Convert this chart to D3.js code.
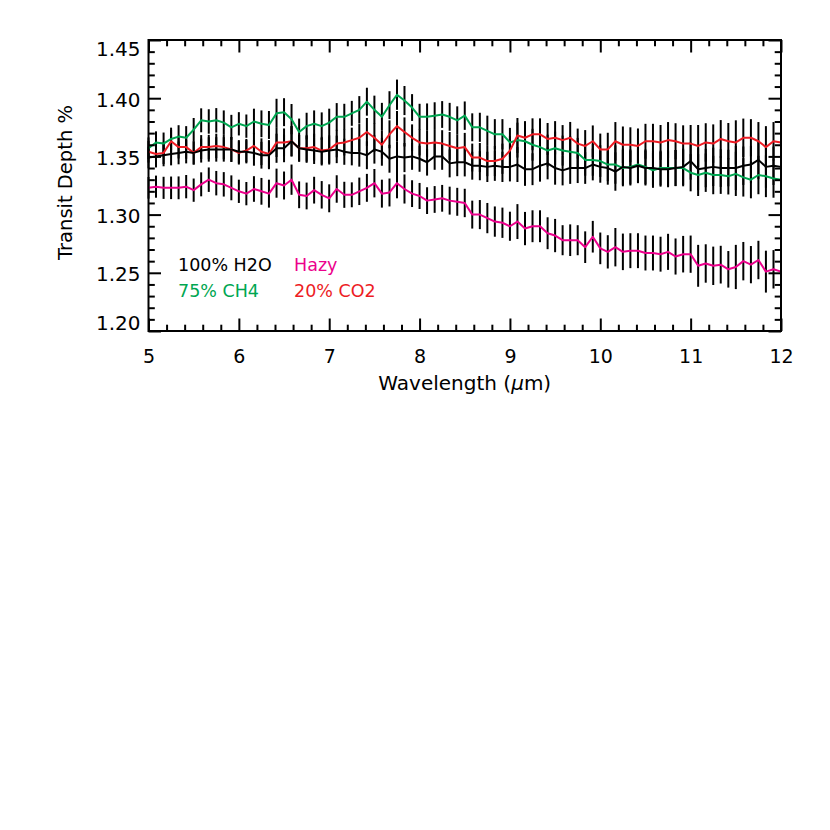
<!DOCTYPE html>
<html><head><meta charset="utf-8">
<script src="https://cdn.jsdelivr.net/npm/d3@7"></script>
<style>
body{margin:0;background:#fff;}
svg{display:block;}
text{font-family:"DejaVu Sans",sans-serif;}
</style>
</head><body>
<svg id="chart" width="830" height="830"></svg>
<script>
// ---------- data ----------
const wavelength = [
5.000,5.083,5.167,5.250,5.333,5.417,5.500,5.583,5.667,5.750,5.833,5.917,
6.000,6.083,6.167,6.250,6.333,6.417,6.500,6.583,6.667,6.750,6.833,6.917,
7.000,7.083,7.167,7.250,7.333,7.417,7.500,7.583,7.667,7.750,7.833,7.917,
8.000,8.083,8.167,8.250,8.333,8.417,8.500,8.583,8.667,8.750,8.833,8.917,
9.000,9.083,9.167,9.250,9.333,9.417,9.500,9.583,9.667,9.750,9.833,9.917,
10.000,10.083,10.167,10.250,10.333,10.417,10.500,10.583,10.667,10.750,10.833,10.917,
11.000,11.083,11.167,11.250,11.333,11.417,11.500,11.583,11.667,11.750,11.833,11.917,
12.000];

const h2o = [
1.349,1.350,1.351,1.352,1.353,1.354,1.353,1.355,1.356,1.356,1.356,1.356,
1.354,1.354,1.353,1.351,1.351,1.357,1.357,1.363,1.357,1.356,1.355,1.354,
1.355,1.356,1.354,1.353,1.353,1.351,1.356,1.354,1.348,1.350,1.349,1.350,
1.348,1.345,1.350,1.350,1.344,1.345,1.345,1.342,1.342,1.341,1.342,1.341,
1.341,1.343,1.339,1.339,1.342,1.344,1.340,1.338,1.340,1.340,1.340,1.343,
1.341,1.340,1.337,1.341,1.340,1.342,1.340,1.340,1.339,1.339,1.340,1.341,
1.346,1.339,1.340,1.341,1.340,1.340,1.340,1.342,1.343,1.347,1.341,1.342,
1.341];

const ch4 = [
1.357,1.362,1.361,1.365,1.367,1.366,1.373,1.381,1.380,1.381,1.379,1.375,
1.378,1.376,1.380,1.378,1.377,1.387,1.388,1.382,1.371,1.376,1.378,1.376,
1.379,1.384,1.384,1.387,1.390,1.397,1.390,1.384,1.394,1.403,1.398,1.392,
1.384,1.384,1.385,1.386,1.384,1.381,1.385,1.375,1.375,1.372,1.369,1.369,
1.362,1.364,1.363,1.360,1.358,1.355,1.357,1.355,1.354,1.353,1.347,1.347,
1.346,1.343,1.343,1.340,1.341,1.343,1.341,1.338,1.340,1.340,1.340,1.340,
1.336,1.334,1.336,1.334,1.334,1.333,1.335,1.332,1.330,1.334,1.333,1.331,
1.330];

const co2 = [
1.354,1.352,1.353,1.363,1.358,1.358,1.353,1.358,1.358,1.359,1.358,1.356,
1.353,1.355,1.359,1.354,1.352,1.362,1.362,1.363,1.357,1.357,1.358,1.355,
1.356,1.361,1.362,1.364,1.366,1.371,1.366,1.360,1.369,1.376,1.371,1.366,
1.362,1.361,1.362,1.361,1.359,1.357,1.358,1.349,1.349,1.346,1.346,1.348,
1.355,1.368,1.366,1.369,1.369,1.365,1.366,1.364,1.366,1.361,1.359,1.363,
1.356,1.356,1.363,1.360,1.360,1.359,1.363,1.363,1.362,1.364,1.363,1.361,
1.361,1.359,1.362,1.361,1.365,1.363,1.362,1.366,1.366,1.363,1.358,1.363,
1.362];

const hazy = [
1.323,1.324,1.323,1.323,1.323,1.324,1.321,1.326,1.330,1.327,1.326,1.323,
1.320,1.318,1.322,1.320,1.318,1.327,1.325,1.330,1.317,1.316,1.321,1.317,
1.314,1.322,1.317,1.317,1.320,1.323,1.327,1.318,1.319,1.327,1.322,1.318,
1.316,1.312,1.313,1.314,1.312,1.311,1.310,1.300,1.300,1.297,1.294,1.293,
1.290,1.294,1.288,1.290,1.290,1.284,1.282,1.278,1.278,1.278,1.272,1.281,
1.271,1.268,1.272,1.268,1.269,1.269,1.267,1.267,1.266,1.268,1.264,1.266,
1.266,1.256,1.258,1.256,1.257,1.253,1.255,1.260,1.257,1.261,1.251,1.253,
1.251];

// one-sigma error per wavelength bin (same for every case)
const sigma = [
0.0093,0.0095,0.0095,0.0097,0.0098,0.0100,0.0100,0.0103,0.0105,0.0105,0.0105,0.0107,
0.0100,0.0100,0.0110,0.0115,0.0120,0.0125,0.0120,0.0130,0.0115,0.0115,0.0115,0.0118,
0.0120,0.0118,0.0112,0.0107,0.0118,0.0120,0.0122,0.0120,0.0120,0.0130,0.0125,0.0115,
0.0112,0.0115,0.0115,0.0115,0.0120,0.0120,0.0122,0.0120,0.0125,0.0130,0.0130,0.0130,
0.0125,0.0150,0.0143,0.0137,0.0137,0.0137,0.0143,0.0129,0.0136,0.0129,0.0136,0.0136,
0.0136,0.0143,0.0165,0.0157,0.0150,0.0150,0.0150,0.0150,0.0150,0.0155,0.0155,0.0157,
0.0160,0.0180,0.0165,0.0165,0.0162,0.0157,0.0190,0.0165,0.0160,0.0165,0.0180,0.0165,
0.0165];

const seriesNames  = ["75% CH4", "20% CO2", "Hazy", "100% H2O"];
const seriesValues = [ch4, co2, hazy, h2o];
const seriesColors = ["#00a651", "#ed1c24", "#ec008c", "#000000"];

const legendLabels = ["100% H2O", "Hazy", "75% CH4", "20% CO2"];
const legendColors = ["#000000", "#ec008c", "#00a651", "#ed1c24"];

const xTicks = [5, 6, 7, 8, 9, 10, 11, 12];
const xMinorTicks = [5.2,5.4,5.6,5.8,6.2,6.4,6.6,6.8,7.2,7.4,7.6,7.8,8.2,8.4,8.6,8.8,
                     9.2,9.4,9.6,9.8,10.2,10.4,10.6,10.8,11.2,11.4,11.6,11.8];
const yTicks = [1.20, 1.25, 1.30, 1.35, 1.40, 1.45];
const yMinorTicks = [1.21,1.22,1.23,1.24,1.26,1.27,1.28,1.29,1.31,1.32,1.33,1.34,
                     1.36,1.37,1.38,1.39,1.41,1.42,1.43,1.44];

// ---------- layout ----------
const L = 148.5, R = 781, T = 40, B = 331;
const MAJ = 12.5, MIN = 6.3;

const svg = d3.select("#chart");
const x = d3.scaleLinear().domain([5, 12]).range([L, R]);
const y = d3.scaleLinear().domain([1.20, 1.45]).range([B, T]);

// error bars
const eb = svg.append("g").attr("stroke", "#000").attr("stroke-width", 2);
seriesValues.forEach(vals => {
  eb.selectAll(null).data(vals).enter().append("line")
    .attr("x1", (d, i) => x(wavelength[i]))
    .attr("x2", (d, i) => x(wavelength[i]))
    .attr("y1", (d, i) => y(d - sigma[i]))
    .attr("y2", (d, i) => y(d + sigma[i]));
});

// lines
const line = d3.line().x((d, i) => x(wavelength[i])).y(d => y(d));
seriesValues.forEach((vals, k) => {
  svg.append("path").datum(vals)
    .attr("d", line)
    .attr("fill", "none")
    .attr("stroke", seriesColors[k])
    .attr("stroke-width", 2)
    .attr("stroke-linejoin", "round");
});

// axes
function styleAxis(g) {
  g.select(".domain").remove();
  g.selectAll(".tick line").attr("stroke", "#000").attr("stroke-width", 2);
}
const fmtY = d3.format(".2f");

svg.append("g").attr("transform", `translate(0,${B})`)
  .call(d3.axisBottom(x).tickValues(xTicks).tickSize(-MAJ).tickPadding(18.5).tickFormat(d3.format("d")))
  .call(styleAxis)
  .call(g => g.selectAll("text").attr("font-size", 19).attr("fill", "#000"));
svg.append("g").attr("transform", `translate(0,${B})`)
  .call(d3.axisBottom(x).tickValues(xMinorTicks).tickSize(-MIN).tickFormat(""))
  .call(styleAxis);
svg.append("g").attr("transform", `translate(0,${T})`)
  .call(d3.axisTop(x).tickValues(xTicks).tickSize(-MAJ).tickFormat(""))
  .call(styleAxis);
svg.append("g").attr("transform", `translate(0,${T})`)
  .call(d3.axisTop(x).tickValues(xMinorTicks).tickSize(-MIN).tickFormat(""))
  .call(styleAxis);

// label nudges so the end labels sit inside the frame, as in the reference
const yLabelShift = v => (v >= 1.449 ? 9 : v <= 1.201 ? -8 : 1.5);
svg.append("g").attr("transform", `translate(${L},0)`)
  .call(d3.axisLeft(y).tickValues(yTicks).tickSize(-MAJ).tickPadding(8).tickFormat(fmtY))
  .call(styleAxis)
  .call(g => g.selectAll("text").attr("font-size", 20).attr("fill", "#000")
    .attr("y", d => yLabelShift(d)));
svg.append("g").attr("transform", `translate(${L},0)`)
  .call(d3.axisLeft(y).tickValues(yMinorTicks).tickSize(-MIN).tickFormat(""))
  .call(styleAxis);
svg.append("g").attr("transform", `translate(${R},0)`)
  .call(d3.axisRight(y).tickValues(yTicks).tickSize(-MAJ).tickFormat(""))
  .call(styleAxis);
svg.append("g").attr("transform", `translate(${R},0)`)
  .call(d3.axisRight(y).tickValues(yMinorTicks).tickSize(-MIN).tickFormat(""))
  .call(styleAxis);

// frame
svg.append("rect").attr("x", L).attr("y", T).attr("width", R - L).attr("height", B - T)
  .attr("fill", "none").attr("stroke", "#000").attr("stroke-width", 2);

// axis titles
const xt = svg.append("text").attr("x", (L + R) / 2).attr("y", 390)
  .attr("text-anchor", "middle").attr("font-size", 20).attr("fill", "#000");
xt.append("tspan").text("Wavelength (");
xt.append("tspan").attr("font-style", "italic").text("μ");
xt.append("tspan").text("m)");

svg.append("text")
  .attr("transform", `translate(72,182.5) rotate(-90)`)
  .attr("text-anchor", "middle").attr("font-size", 19.5).attr("fill", "#000")
  .text("Transit Depth %");

// legend
const legX = [178, 294], legY = [271, 296.5];
legendLabels.forEach((lab, k) => {
  svg.append("text")
    .attr("x", legX[k % 2]).attr("y", legY[Math.floor(k / 2)])
    .attr("font-size", 17.5).attr("fill", legendColors[k])
    .text(lab);
});
</script>
</body></html>
